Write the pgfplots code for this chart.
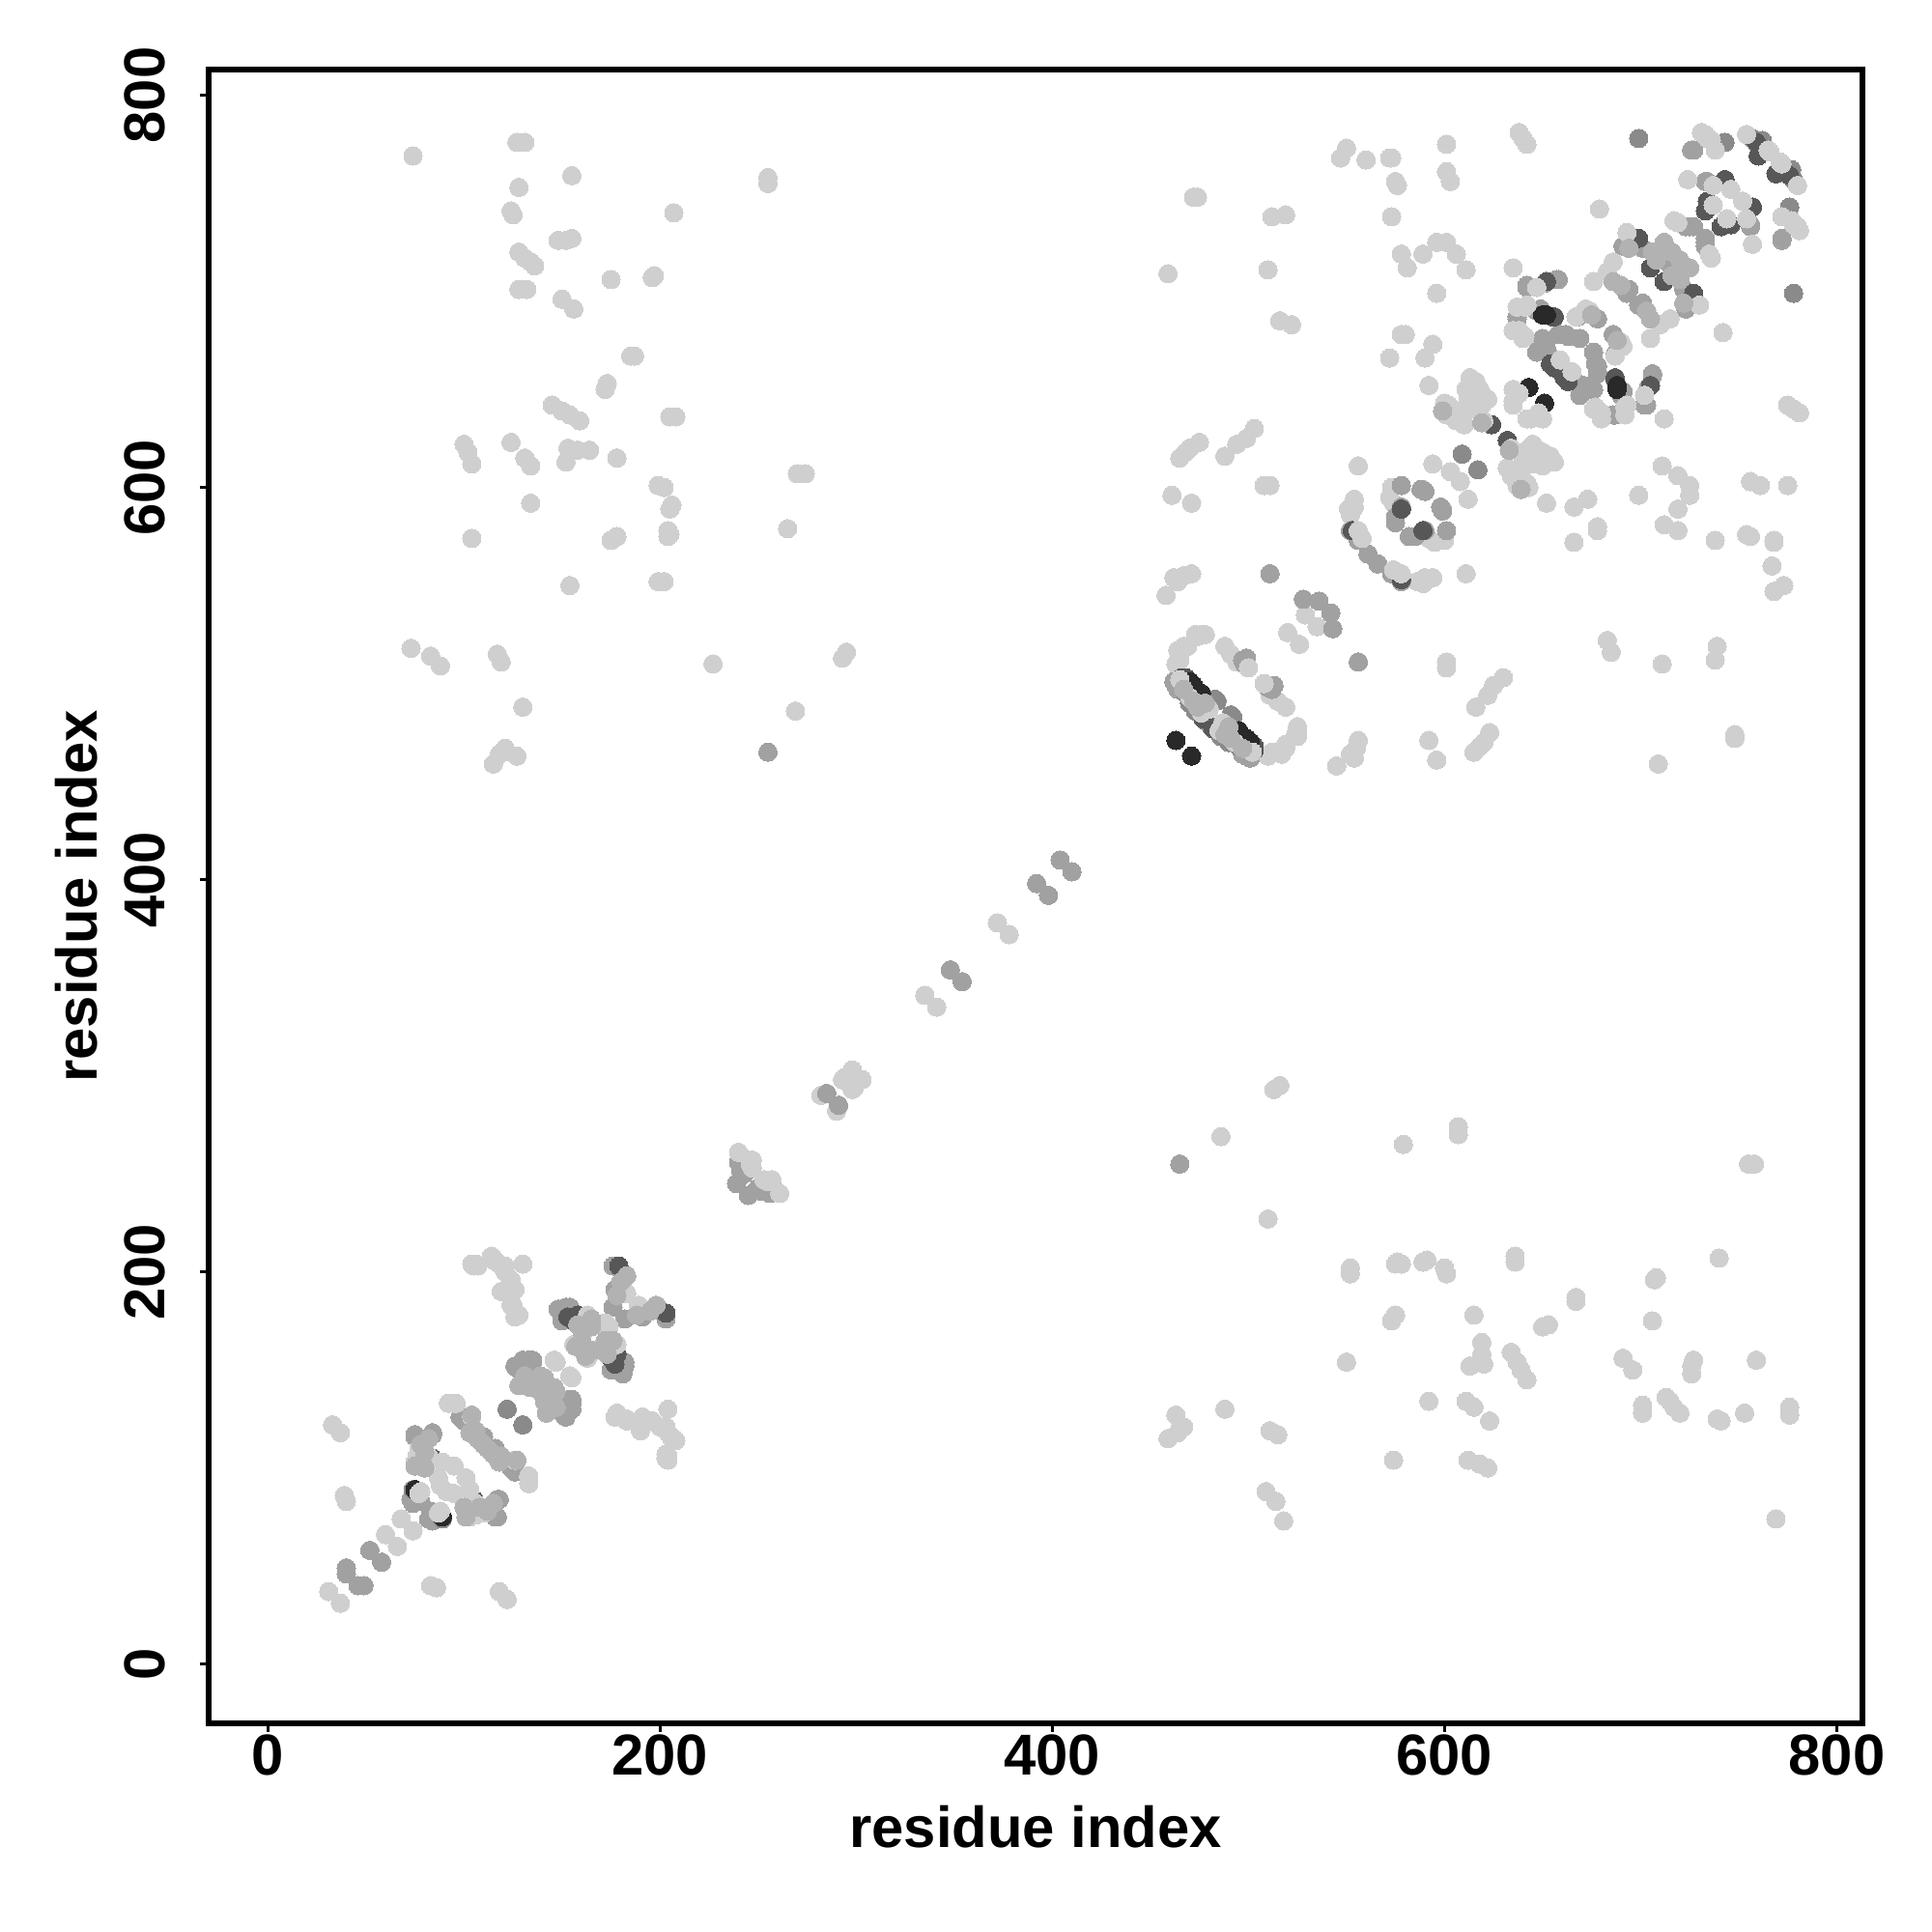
\documentclass[border=0pt]{standalone}
\usepackage{pgfplots}
\pgfplotsset{compat=1.18}
\usepackage{pgfplotstable}
\usepackage{fontspec}
\setmainfont{Liberation Sans}
% upper triangle of a symmetric contact map: each table lists pairs a<b
\pgfplotstableread[row sep=\\]{a b\\
74 769\\127 776\\131 776\\128 753\\155 759\\255 758\\255 755\\207 740\\124 741\\125 739\\128 720\\131 717\\134 715\\136 713\\148 726\\152 726\\155 727\\196 707\\197 708\\175 706\\128 701\\132 701\\150 696\\156 691\\185 667\\187 667\\172 650\\173 653\\145 642\\150 639\\154 637\\159 634\\205 636\\208 636\\100 622\\102 618\\104 612\\124 623\\131 615\\134 611\\153 620\\152 613\\158 619\\164 619\\178 615\\270 607\\274 607\\199 601\\202 600\\206 591\\205 589\\134 592\\104 574\\204 578\\205 576\\204 575\\265 579\\175 573\\178 575\\154 550\\199 552\\202 552\\73 518\\83 514\\88 509\\117 515\\119 511\\227 510\\295 516\\293 513\\130 488\\269 486\\121 467\\118 464\\115 459\\120 465\\127 463\\
31 37\\60 66\\68 74\\33 122\\37 118\\39 86\\40 83\\104 204\\106 204\\114 208\\115 206\\118 204\\121 200\\124 196\\119 190\\122 190\\126 191\\124 183\\128 178\\126 177\\125 183\\130 204\\121 203\\115 207\\105 203\\107 203\\
372 378\\335 341\\282 290\\293 298\\
547 768\\550 773\\560 767\\572 768\\573 768\\575 756\\576 754\\601 775\\601 761\\603 756\\638 781\\642 775\\640 778\\472 748\\474 748\\512 738\\519 739\\573 738\\459 709\\510 711\\578 719\\581 712\\589 719\\596 725\\601 725\\606 719\\611 711\\596 699\\635 712\\516 685\\522 683\\578 678\\580 678\\594 673\\590 666\\572 666\\592 652\\503 630\\499 625\\494 622\\488 616\\465 615\\470 620\\475 623\\468 618\\556 611\\594 612\\603 608\\461 596\\471 592\\511 601\\508 601\\553 591\\551 589\\554 594\\554 590\\552 586\\467 555\\462 554\\471 556\\464 552\\458 545\\529 535\\520 526\\476 525\\473 525\\478 525\\467 519\\464 517\\465 512\\477 525\\474 524\\469 519\\465 513\\463 510\\488 519\\491 515\\494 511\\679 742\\574 592\\589 599\\572 595\\573 600\\
}\tL
\pgfplotstableread[row sep=\\]{a b\\
40 49\\40 46\\52 58\\75 117\\84 117\\75 116\\84 118\\73 84\\74 82\\78 83\\
176 203\\177 191\\176 182\\148 181\\152 182\\154 182\\149 180\\150 175\\154 181\\152 180\\126 152\\130 155\\135 155\\127 151\\133 155\\135 154\\98 126\\100 124\\103 122\\110 116\\
348 354\\392 398\\404 410\\285 291\\239 245\\242 258\\240 256\\241 252\\243 250\\255 465\\
726 772\\727 772\\734 756\\733 756\\723 733\\725 733\\727 733\\691 723\\701 722\\711 717\\712 716\\694 701\\693 699\\642 703\\651 704\\657 706\\637 687\\647 690\\649 691\\637 686\\642 702\\658 706\\658 678\\662 678\\669 676\\652 671\\648 670\\655 666\\647 669\\650 676\\663 677\\659 678\\678 686\\668 687\\578 601\\575 582\\578 590\\590 598\\575 585\\588 599\\561 566\\556 573\\552 578\\528 543\\536 542\\511 556\\556 511\\498 510\\499 513\\497 512\\498 512\\462 501\\463 499\\464 497\\
}\tM
\pgfplotstableread[row sep=\\]{a b\\
122 130\\74 89\\
699 778\\743 776\\757 778\\762 777\\483 492\\484 491\\609 617\\470 490\\473 486\\478 481\\468 495\\
}\tN
\pgfplotstableread[row sep=\\]{a b\\
84 105\\179 203\\158 178\\153 177\\156 175\\
760 769\\759 776\\743 757\\734 746\\733 741\\736 744\\699 727\\705 712\\656 687\\655 687\\652 705\\656 661\\654 663\\578 589\\553 578\\477 482\\477 483\\468 503\\466 503\\624 632\\
}\tD
\pgfplotstableread[row sep=\\]{a b\\
75 89\\
472 499\\476 495\\470 501\\463 471\\643 651\\650 688\\652 688\\
}\tK
\pgfplotstableread[row sep=\\]{a b\\
75 103\\76 106\\77 110\\80 112\\89 103\\95 101\\87 95\\88 91\\82 106\\78 88\\77 87\\92 133\\96 133\\104 126\\95 133\\
182 190\\183 189\\156 163\\160 167\\163 178\\167 173\\172 174\\146 155\\147 154\\
247 257\\240 261\\246 255\\247 253\\298 303\\294 299\\
754 780\\765 772\\766 771\\731 781\\734 778\\738 772\\736 777\\733 780\\724 757\\737 754\\737 744\\746 752\\719 735\\717 736\\693 730\\676 705\\686 715\\683 710\\638 680\\641 677\\641 692\\637 692\\672 691\\667 687\\674 690\\659 665\\640 676\\635 680\\642 693\\647 702\\635 650\\635 642\\636 646\\635 644\\638 648\\613 656\\616 654\\619 648\\614 642\\600 643\\604 640\\609 637\\620 634\\601 637\\606 634\\611 650\\617 640\\612 645\\619 642\\614 655\\618 650\\622 645\\616 648\\602 642\\607 636\\610 632\\611 639\\556 578\\558 574\\500 508\\465 502\\470 493\\476 485\\480 487\\
}\tT
\pgfplotstableread[row sep=\\]{a b\\
135 143\\128 142\\138 140\\139 147\\134 141\\141 146\\131 147\\
160 170\\158 173\\165 172\\178 188\\180 195\\183 198\\157 162\\160 165\\165 176\\
80 108\\78 112\\82 115\\103 118\\107 115\\110 112\\75 101\\80 100\\104 127\\106 119\\
712 725\\716 720\\694 722\\708 716\\706 720\\686 705\\690 703\\675 688\\619 633\\599 639\\
472 491\\474 488\\478 490\\467 497\\474 490\\
}\tU
\newcommand\ser[2]{%
  \addplot[only marks,color=#1,mark=*,mark size=2.38bp,mark options={draw=#1,fill=#1,line width=0pt}] table[x=a,y=b] {#2};
  \addplot[only marks,color=#1,mark=*,mark size=2.38bp,mark options={draw=#1,fill=#1,line width=0pt}] table[x=b,y=a] {#2};
}
\begin{document}
\begin{tikzpicture}
\path[use as bounding box] (-54bp,-54bp) rectangle (446bp,446bp);
\begin{axis}[
  at={(0,0)},anchor=south west,
  scale only axis,width=428bp,height=428bp,
  xmin=-30.2,xmax=813.1,ymin=-30.2,ymax=813.1,
  axis line style={line width=1.45bp,black},
  xtick={0,200,400,600,800},ytick={0,200,400,600,800},
  xtick pos=lower,ytick pos=left,tick align=outside,
  major tick length=2.25bp,
  tick style={line width=0.75bp,black},
  /pgf/number format/assume math mode=true,
  /pgf/number format/1000 sep={},
  tick label style={font=\fontsize{15}{15}\selectfont\bfseries,inner sep=0pt},
  xticklabel style={anchor=north,yshift=-0.5bp},
  yticklabel style={rotate=90,anchor=south,yshift=8.9bp},
  xlabel={residue index},ylabel={residue index},
  label style={font=\fontsize{15}{15}\selectfont\bfseries},
  xlabel style={at={(axis description cs:0.5,-0.0625)},anchor=center},
  ylabel style={at={(axis description cs:-0.08,0.5)},rotate=0,anchor=center},
]
\ser{black!19}{\tL}
\ser{black!37}{\tM}
\ser{black!46}{\tN}
\ser{black!66}{\tD}
\ser{black!84}{\tK}
\ser{black!19}{\tT}
\ser{black!30}{\tU}
\end{axis}
\end{tikzpicture}
\end{document}
